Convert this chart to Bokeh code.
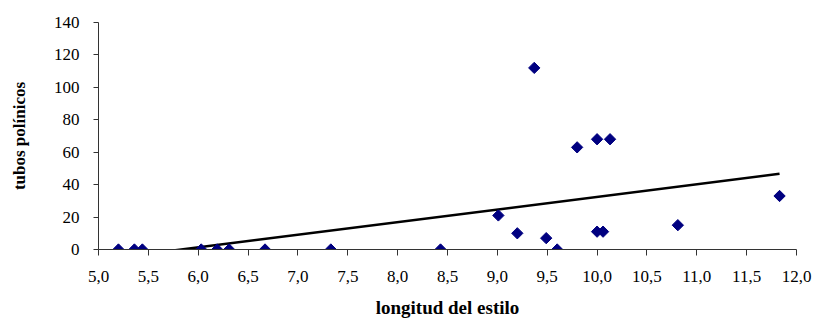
import numpy as np
from bokeh.plotting import figure
from bokeh.models import FixedTicker, Range1d
from bokeh.embed import file_html
from bokeh.resources import INLINE

# data
longitud = [5.20, 5.36, 5.44, 6.03, 6.19, 6.31, 6.67, 7.33, 8.43, 9.01, 9.20,
            9.37, 9.49, 9.60, 9.80, 10.00, 10.13, 10.00, 10.06, 10.81, 11.83]
tubos = [0, 0, 0, 0, 0, 0, 0, 0, 0, 21, 10,
         112, 7, 0, 63, 68, 68, 11, 11, 15, 33]

x_ticks = [5.0, 5.5, 6.0, 6.5, 7.0, 7.5, 8.0, 8.5, 9.0, 9.5, 10.0, 10.5, 11.0, 11.5, 12.0]
x_tick_labels = ["5,0", "5,5", "6,0", "6,5", "7,0", "7,5", "8,0", "8,5", "9,0", "9,5",
                 "10,0", "10,5", "11,0", "11,5", "12,0"]
y_ticks = [0, 20, 40, 60, 80, 100, 120, 140]

FONT = "Liberation Serif"

p = figure(width=819, height=324, output_backend="svg", toolbar_location=None,
           x_range=Range1d(5.0, 12.0), y_range=Range1d(0, 140),
           min_border_left=98, min_border_right=23, min_border_top=22, min_border_bottom=75)
p.outline_line_color = None
p.xgrid.visible = False
p.ygrid.visible = False

# linear trend line (least squares)
b, a = np.polyfit(longitud, tubos, 1)
xs = np.array([min(longitud), max(longitud)])
p.line(xs, a + b * xs, line_color="black", line_width=2.5)

p.scatter(longitud, tubos, marker="square", angle=np.pi / 4, size=8,
          fill_color="#000080", line_color="#000080", line_width=1)

xa = p.xaxis[0]
xa.ticker = FixedTicker(ticks=x_ticks)
xa.major_label_overrides = {t: l for t, l in zip(x_ticks, x_tick_labels)}
xa.minor_tick_line_color = None
xa.major_tick_out = 6
xa.major_tick_in = 0
xa.axis_line_color = "#333333"
xa.major_tick_line_color = "#333333"
xa.major_label_text_font = FONT
xa.major_label_text_font_size = "17px"
xa.major_label_text_color = "black"
xa.major_label_standoff = 15
xa.axis_label = "longitud del estilo"
xa.axis_label_text_font = FONT
xa.axis_label_text_font_style = "bold"
xa.axis_label_text_font_size = "19px"
xa.axis_label_text_color = "black"
xa.axis_label_standoff = 12

ya = p.yaxis[0]
ya.ticker = FixedTicker(ticks=y_ticks)
ya.minor_tick_line_color = None
ya.major_tick_out = 5
ya.major_tick_in = 0
ya.axis_line_color = "#333333"
ya.major_tick_line_color = "#333333"
ya.major_label_text_font = FONT
ya.major_label_text_font_size = "17px"
ya.major_label_text_color = "black"
ya.major_label_standoff = 14
ya.axis_label = "tubos polínicos"
ya.axis_label_text_font = FONT
ya.axis_label_text_font_style = "bold"
ya.axis_label_text_font_size = "17px"
ya.axis_label_text_color = "black"
ya.axis_label_standoff = 22

open("out.html", "w").write(file_html(p, INLINE))
